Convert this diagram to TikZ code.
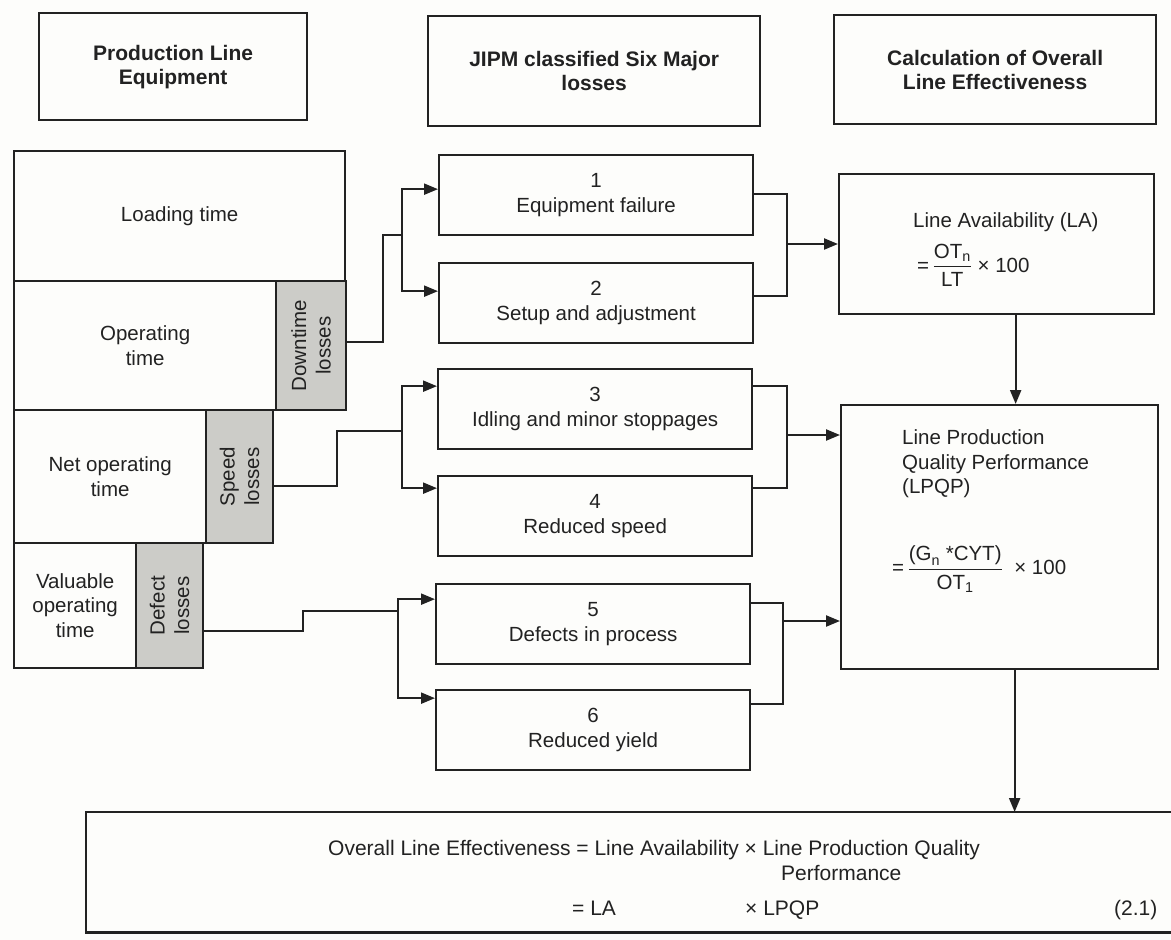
\documentclass[tikz,border=0pt]{standalone}
\usepackage{amsmath}
\usepackage{fontspec}
\setmainfont{Liberation Sans}
\usetikzlibrary{arrows.meta}

\definecolor{ink}{RGB}{34,34,34}
\definecolor{lossfill}{RGB}{204,204,200}
\definecolor{paper}{RGB}{253,253,251}

\begin{document}
\begin{tikzpicture}[x=1pt,y=-1pt,
  every node/.style={font=\fontsize{20.5}{24.5}\selectfont, text=ink, inner sep=0pt},
  frame/.style={draw=ink, line width=2.3pt, anchor=north west},
  lossbox/.style={frame, fill=lossfill},
  head/.style={frame, align=center, font=\fontsize{21}{24}\selectfont\bfseries},
  lossitem/.style={frame, align=center, minimum width=314pt, minimum height=80pt},
  eqline/.style={anchor=base west, font=\fontsize{21}{24}\selectfont},
  wire/.style={draw=ink, line width=2.2pt},
  arr/.style={wire, -{Triangle[length=14pt,width=11pt]}},
]
\useasboundingbox (0,0) rectangle (1171,940);
\fill[paper] (0,0) rectangle (1171,940);

% column headings
\node[head, minimum width=268pt, minimum height=107pt] (hA) at (38,12) {Production Line\\Equipment};
\node[head, minimum width=332pt, minimum height=110pt] (hB) at (427,15) {JIPM classified Six Major\\losses};
\node[head, minimum width=322pt, minimum height=109pt] (hC) at (833,14) {Calculation of Overall\\Line Effectiveness};

% time breakdown of the production line
\node[frame, minimum width=331pt, minimum height=130pt] (load) at (13,150) {Loading time};
\node[frame, minimum width=262pt, minimum height=129pt, align=center] (oper) at (13,280) {Operating\\time};
\node[lossbox, minimum width=70pt, minimum height=129pt] (down) at (275,280) {};
\node[rotate=90, align=center] (downtxt) at (down.center) {Downtime\\losses};
\node[frame, minimum width=192pt, minimum height=133pt, align=center] (net) at (13,409) {Net operating\\time};
\node[lossbox, minimum width=67pt, minimum height=133pt] (speed) at (205,409) {};
\node[rotate=90, align=center] (speedtxt) at (speed.center) {Speed\\losses};
\node[frame, minimum width=122pt, minimum height=125pt, align=center] (val) at (13,542) {Valuable\\operating\\time};
\node[lossbox, minimum width=67pt, minimum height=125pt] (defect) at (135,542) {};
\node[rotate=90, align=center] (defecttxt) at (defect.center) {Defect\\losses};

% six major losses
\node[lossitem] (b1) at (438,154) {1\\Equipment failure};
\node[lossitem] (b2) at (438,262) {2\\Setup and adjustment};
\node[lossitem] (b3) at (437,368) {3\\Idling and minor stoppages};
\node[lossitem] (b4) at (437,475) {4\\Reduced speed};
\node[lossitem] (b5) at (435,583) {5\\Defects in process};
\node[lossitem] (b6) at (435,689) {6\\Reduced yield};

% effectiveness calculation
\node[frame, minimum width=315pt, minimum height=140pt] (la) at (838,173) {};
\node[anchor=west] (latitle) at (913,222) {Line Availability (LA)};
\node[anchor=west] (laeq) at (917,265) {$\text{=}\,\dfrac{\text{OT}_{\text{n}}}{\text{LT}}\text{ × 100}$};

\node[frame, minimum width=317pt, minimum height=264pt] (lpqp) at (840,404) {};
\node[anchor=west, align=left] (lpqptitle) at (902,464) {Line Production\\Quality Performance\\(LPQP)};
\node[anchor=west] (lpqpeq) at (892,569) {$\text{=}\,\dfrac{\text{(G}_{\text{n}}\text{ *CYT)}}{\text{OT}_{\text{1}}}\;\;\text{× 100}$};

% overall line effectiveness
\node[anchor=north west, minimum width=1085pt, minimum height=120pt] (ole) at (86,812) {};
\draw[wire] (ole.north east) -- (ole.north west) -- (ole.south west) -- (ole.south east);
\node[eqline] (oletxt) at (328,855) {Overall Line Effectiveness = Line Availability × Line Production Quality};
\node[eqline] (oleperf) at (781,880) {Performance};
\node[eqline] (olela) at (572,915) {= LA};
\node[eqline] (olelpqp) at (745,915) {× LPQP};
\node[eqline] (oleno) at (1114,915) {(2.1)};

% junctions of the connectors
\coordinate (j1) at (402,235);
\coordinate (j2) at (402,431);
\coordinate (j3) at (398,611);
\coordinate (k1) at (787,244);
\coordinate (k2) at (787,435);
\coordinate (k3) at (783,621);

% losses to their categories
\draw[wire] ([yshift=3.5pt]down.east) -- ++(36,0) |- (j1);
\draw[arr] (j1) |- ([yshift=6pt]b1.west);
\draw[arr] (j1) |- ([yshift=12pt]b2.west);

\draw[wire] ([yshift=-9.5pt]speed.east) -- ++(63,0) |- (j2);
\draw[arr] (j2) |- ([yshift=23pt]b3.west);
\draw[arr] (j2) |- ([yshift=28pt]b4.west);

\draw[wire] ([yshift=-25.5pt]defect.east) -- ++(99,0) |- (j3);
\draw[arr] (j3) |- ([yshift=25pt]b5.west);
\draw[arr] (j3) |- ([yshift=32pt]b6.west);

% categories to the calculations
\draw[wire] ([yshift=1pt]b1.east) -| (k1);
\draw[wire] ([yshift=7pt]b2.east) -| (k1);
\draw[arr] (k1) -- (k1 -| la.west);

\draw[wire] ([yshift=23pt]b3.east) -| (k2);
\draw[wire] ([yshift=28pt]b4.east) -| (k2);
\draw[arr] (k2) -- (k2 -| lpqp.west);

\draw[wire] ([yshift=21pt]b5.east) -| (k3);
\draw[wire] ([yshift=26pt]b6.east) -| (k3);
\draw[arr] (k3) -- (k3 -| lpqp.west);

\draw[arr] ([xshift=19pt]la.south) -- ([xshift=19pt]la.south |- lpqp.north);
\draw[arr] ([xshift=15pt]lpqp.south) -- ([xshift=15pt]lpqp.south |- ole.north);
\end{tikzpicture}
\end{document}
